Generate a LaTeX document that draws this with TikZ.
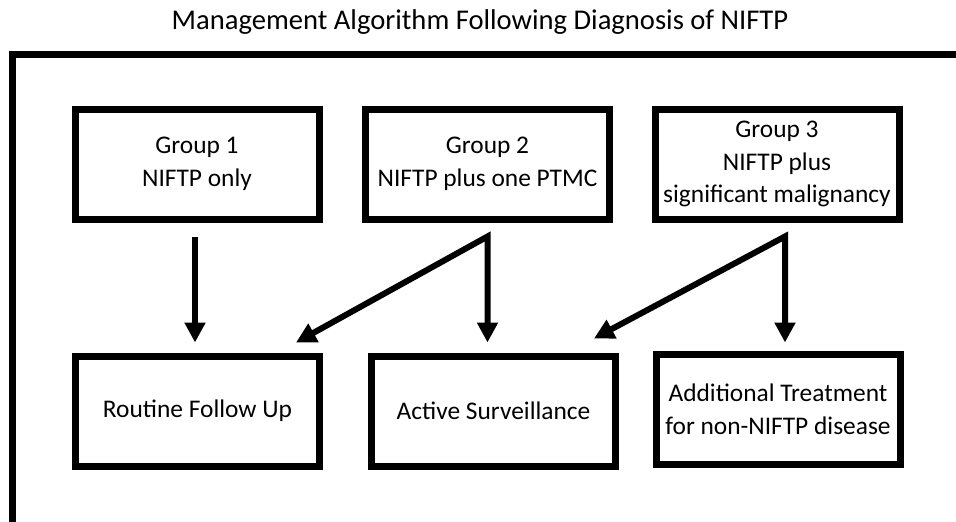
\documentclass[tikz,border=0pt]{standalone}
\usepackage{fontspec}
\setmainfont{Carlito}
\usetikzlibrary{arrows.meta}

\begin{document}
\begin{tikzpicture}[x=1pt,y=-1pt,
  box/.style={draw,line width=7pt,minimum width=244pt,minimum height=110pt,
    align=center,inner sep=2pt,font=\fontsize{25.4}{32.5}\selectfont},
  arr/.style={line width=6pt,line join=miter,-{Triangle[length=20pt,width=20pt]}},
  arrtwo/.style={line width=6pt,line join=miter,
    {Triangle[length=20pt,width=20pt]}-{Triangle[length=20pt,width=20pt]}}]
  \clip (0,0) rectangle (956,522);
  % ---------- title and frame ----------
  \node[font=\fontsize{28.6}{34}\selectfont] (title) at (480,22)
    {Management Algorithm Following Diagnosis of NIFTP};
  \draw[line width=7pt] (12.5,560) |- (990,54);
  % ---------- groups ----------
  \node[box] (g1) at (197,164) {Group 1\\NIFTP only};
  \node[box] (g2) at (487.5,164) {Group 2\\NIFTP plus one PTMC};
  \node[box] (g3) at (777,164) {Group 3\\NIFTP plus\\significant malignancy};
  % ---------- outcomes ----------
  \node[box] (r1) at (197.5,411) {Routine Follow Up};
  \node[box] (r2) at (493.5,411) {Active Surveillance};
  \node[box] (r3) at (778,409.5) {Additional Treatment\\for non-NIFTP disease};
  % ---------- arrows ----------
  \coordinate (b1) at ([xshift=-2pt,yshift=-14pt]g1.south);
  \coordinate (b2) at ([yshift=-14pt]g2.south);
  \coordinate (b3) at ([xshift=8pt,yshift=-14pt]g3.south);
  \draw[arr,shorten >=10pt] (b1) -- (b1 |- r1.north);
  \draw[arrtwo,shorten >=10pt] ([xshift=-27pt,yshift=10pt]r1.north east)
    -- (b2) -- (b2 |- r2.north);
  \draw[arrtwo,shorten >=8.5pt] ([xshift=-25pt,yshift=14pt]r2.north east)
    -- (b3) -- (b3 |- r3.north);
\end{tikzpicture}
\end{document}
